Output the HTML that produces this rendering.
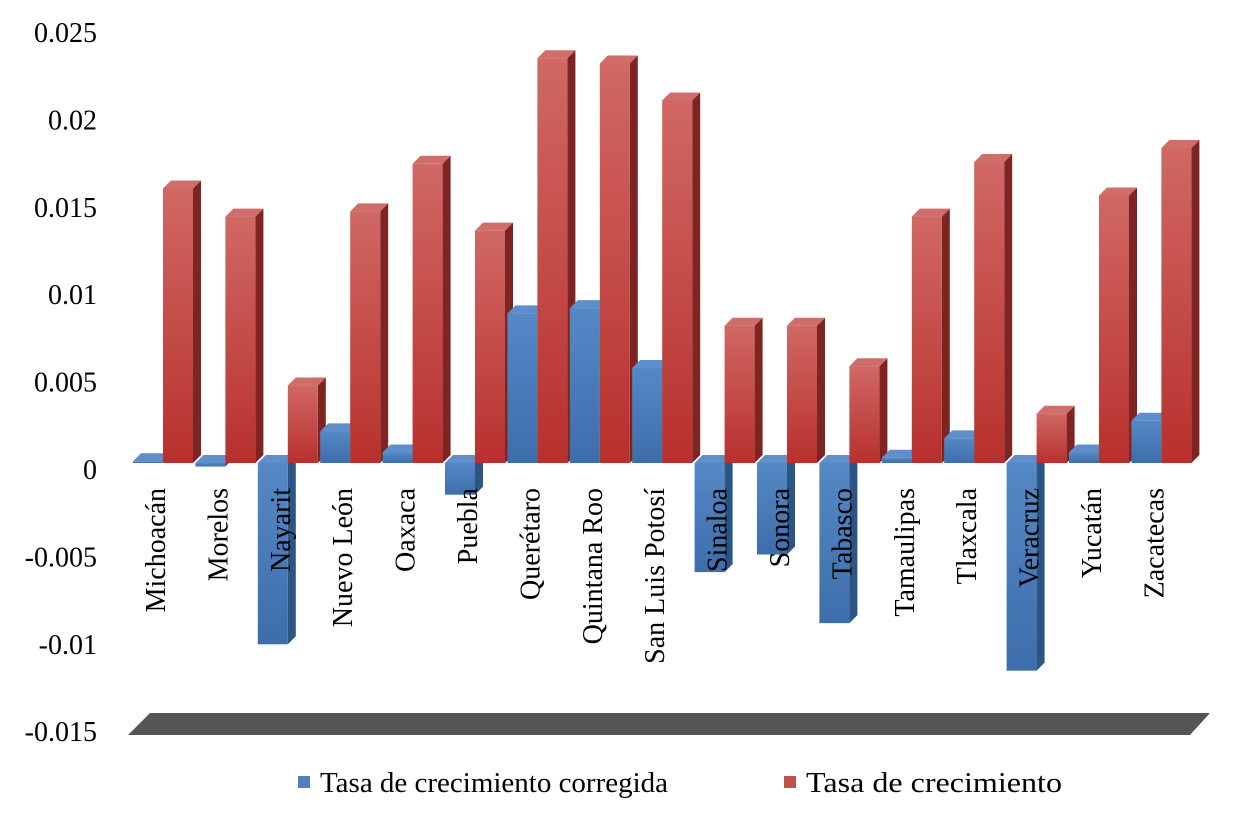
<!DOCTYPE html>
<html><head><meta charset="utf-8"><style>
body{margin:0;background:#fff;width:1244px;height:816px;overflow:hidden}
text{font-family:"Liberation Serif",serif;fill:#000}
</style></head><body>
<svg id="chart" width="1244" height="816" xmlns="http://www.w3.org/2000/svg">
<defs>
<linearGradient id="rg" x1="0" y1="0" x2="0" y2="1"><stop offset="0" stop-color="#d06864"/><stop offset="1" stop-color="#b8302d"/></linearGradient>
<linearGradient id="bg" x1="0" y1="0" x2="0" y2="1"><stop offset="0" stop-color="#5688c6"/><stop offset="1" stop-color="#3d6eab"/></linearGradient>
</defs>
<polygon points="150,713 1210,713 1190,735 128,735" fill="#555"/>
<g id="yaxis"></g><g id="bars"></g><g id="cats"></g>
<g>
<rect x="298" y="776" width="12" height="12" fill="#4f81bd"/>
<text x="320" y="792" font-size="28" textLength="348" lengthAdjust="spacingAndGlyphs">Tasa de crecimiento corregida</text>
<rect x="784" y="776" width="12" height="12" fill="#c0504d"/>
<text x="806" y="792" font-size="28" textLength="256" lengthAdjust="spacingAndGlyphs">Tasa de crecimiento</text>
</g>
</svg>
<script>
const categories=["Michoacán","Morelos","Nayarit","Nuevo León","Oaxaca","Puebla","Querétaro","Quintana Roo","San Luis Potosí","Sinaloa","Sonora","Tabasco","Tamaulipas","Tlaxcala","Veracruz","Yucatán","Zacatecas"];
const corrected=[0.0001,-0.0002,-0.0103,0.0018,0.0006,-0.0018,0.0085,0.0088,0.0054,-0.0062,-0.0052,-0.0091,0.0003,0.0014,-0.0118,0.0006,0.0024];
const growth=[0.0156,0.0140,0.0044,0.0143,0.0170,0.0132,0.0230,0.0227,0.0206,0.0078,0.0078,0.0055,0.0140,0.0171,0.0028,0.0152,0.0179];
const ticks=[0.025,0.02,0.015,0.01,0.005,0,-0.005,-0.01,-0.015];
const tickLabels=["0.025","0.02","0.015","0.01","0.005","0","-0.005","-0.01","-0.015"];
const NS="http://www.w3.org/2000/svg";
const zeroY=463, ppu=17600;
const y=v=>zeroY-v*ppu;
const tickY=v=>470-v*17480;
const gx=i=>133+i*62.4;
const D=8;
function mk(t,a,p){const e=document.createElementNS(NS,t);for(const k in a)e.setAttribute(k,a[k]);p.appendChild(e);return e;}
const ya=document.getElementById('yaxis');
ticks.forEach((t,i)=>{
 const e=mk('text',{x:97,y:tickY(t)+9,'text-anchor':'end','font-size':28},ya);
 
 
 e.textContent=tickLabels[i];
});
const bars=document.getElementById('bars');
function bar(x,v,face,side,top,name){
 const w=30,y0=y(0),y1=y(v),yt=Math.min(y0,y1),yb=Math.max(y0,y1);
 const g=mk('g',{},bars);
 
 
 mk('polygon',{points:`${x+w},${yt} ${x+w+D},${yt-D} ${x+w+D},${yb-D} ${x+w},${yb}`,fill:side},g);
 mk('polygon',{points:`${x},${yt} ${x+D},${yt-D} ${x+w+D},${yt-D} ${x+w},${yt}`,fill:top},g);
 mk('rect',{x:x,y:yt,width:w,height:Math.max(yb-yt,1),fill:face},g);
}
categories.forEach((c,i)=>{
 const x=gx(i);
 bar(x,corrected[i],'url(#bg)','#2b5583','#5f8fcb','bar-corrected-'+i);
 bar(x+30,growth[i],'url(#rg)','#7e2422','#cf6d6a','bar-growth-'+i);
});
const cats=document.getElementById('cats');
categories.forEach((c,i)=>{
 const cx=gx(i)+32;
 const e=mk('text',{x:0,y:0,'text-anchor':'end','font-size':28,transform:`translate(${cx},488) rotate(-90)`},cats);
 
 
 e.textContent=c;
});
</script>
</body></html>
